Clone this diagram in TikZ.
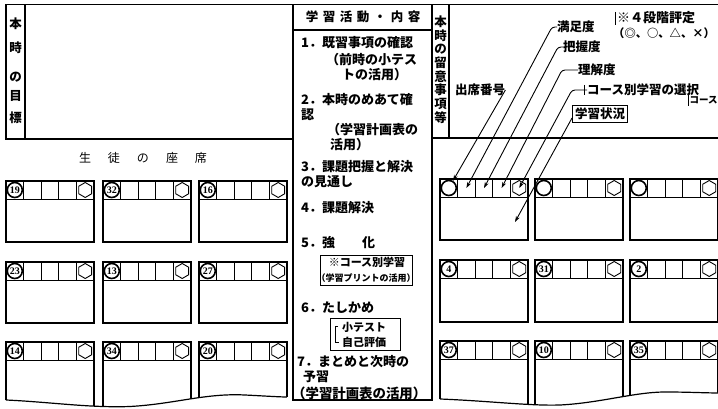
\documentclass[tikz,border=0pt]{standalone}
\usepackage{fontspec}
\newfontfamily\cjk{Noto Sans CJK JP}
\newfontfamily\numf{Liberation Serif}
\usetikzlibrary{shapes.geometric,arrows.meta,calc}
\newcommand\seat[5]{%
  \node[seatbox,minimum height=#4pt] (#1) at (#2,#3) {};
  \foreach \k in {0,...,4}{\node[cellbox] (#1c\k) at ({#2+17.6*\k},#3) {};}
  \node[numc] (#1n) at (#1c0.center) {#5};
  \node[hexa] (#1h) at (#1c4.center) {};
}
\begin{document}
\begin{tikzpicture}[x=1pt,y=-1pt,
  frame/.style={line width=1.4pt},
  seatbox/.style={draw,line width=1.2pt,minimum width=88pt,anchor=north west,inner sep=0pt,outer sep=0pt},
  cellbox/.style={draw,line width=0.9pt,minimum width=17.6pt,minimum height=18pt,anchor=north west,inner sep=0pt,outer sep=0pt},
  numc/.style={circle,draw,line width=1.6pt,minimum size=15pt,inner sep=0pt,font=\numf\bfseries\fontsize{10}{10}\selectfont},
  hexa/.style={regular polygon,regular polygon sides=6,shape border rotate=30,draw,line width=0.9pt,minimum size=15pt,inner sep=0pt},
  item/.style={anchor=west,inner sep=0pt,font=\cjk\bfseries\fontsize{13}{13}\selectfont},
  lbl/.style={anchor=west,inner sep=0pt,font=\cjk\bfseries\fontsize{12.5}{12.5}\selectfont},
  vchar/.style={inner sep=0pt,font=\cjk\bfseries\fontsize{12.5}{12.5}\selectfont},
  leader/.style={line width=0.9pt,rounded corners=3pt,-{Stealth[length=6pt,width=4pt]}},
]
\useasboundingbox (0,0) rectangle (718,409);
\fill[white] (0,0) rectangle (718,409);

% ---- top left: 本時の目標
\draw[frame] (6,4.5) rectangle (293,139);
\draw[frame] (25,4.5) -- (25,139);
\foreach \c/\yy in {本/24,時/48,の/77,目/96,標/118}{\node[vchar] at (15.5,\yy) {\c};}

% ---- center column
\draw[frame] (293,4.5) rectangle (432,400);
\draw[frame] (293,30) -- (432,30);
\node[inner sep=0pt,font=\cjk\bfseries\fontsize{12.5}{12.5}\selectfont] (hd) at (363,17)
  {学\hspace{4.5pt}習\hspace{4.5pt}活\hspace{4.5pt}動\hspace{4.5pt}・\hspace{4.5pt}内\hspace{4.5pt}容};
\node[item] at (301,43) {1．既習事項の確認};
\node[item] at (326,60) {（前時の小テス};
\node[item] at (342,75) {トの活用）};
\node[item] at (301,100) {2．本時のめあて確};
\node[item] at (301,115) {認};
\node[item] at (327,130) {（学習計画表の};
\node[item] at (330,145) {活用）};
\node[item] at (301,167) {3．課題把握と解決};
\node[item] at (301,182) {の見通し};
\node[item] at (301,208) {4．課題解決};
\node[item] at (301,243) {5．強\hspace{27pt}化};
\node[draw,line width=1pt,minimum width=92pt,minimum height=30pt,inner sep=0pt] (kb) at (366,270) {};
\node[inner sep=0pt,font=\cjk\bfseries\fontsize{11}{11}\selectfont] at (367,262) {※コース別学習};
\node[inner sep=0pt,font=\cjk\bfseries\fontsize{9}{9}\selectfont] at (366,278) {（学習プリントの活用）};
\node[item] at (301,308) {6．たしかめ};
\node[draw,line width=1pt,minimum width=70pt,minimum height=32pt,inner sep=0pt] (tb) at (365,334) {};
\node[anchor=west,inner sep=0pt,font=\cjk\bfseries\fontsize{11}{11}\selectfont] at (342,327) {小テスト};
\node[anchor=west,inner sep=0pt,font=\cjk\bfseries\fontsize{11}{11}\selectfont] at (342,342) {自己評価};
\draw[line width=0.8pt] (338,326) -- (335.5,326) -- (335.5,342) -- (339,342);
\node[item] at (297,362) {7．まとめと次時の};
\node[item] at (303,377) {予習};
\node[item,font=\cjk\bfseries\fontsize{13.4}{13.4}\selectfont] at (292,393) {（学習計画表の活用）};

% ---- top right: 本時の留意事項等
\draw[frame] (432,4.5) -- (718,4.5);
\draw[frame] (432,138) -- (718,138);
\draw[frame] (449,4.5) -- (449,138);
\foreach \c [count=\i] in {本,時,の,留,意,事,項,等}{\node[vchar] at (440.5,{22+(\i-1)*13.6}) {\c};}

% ---- seats
\node[inner sep=0pt,font=\cjk\fontsize{12}{12}\selectfont] (zs) at (143,158)
  {生\hspace{17pt}徒\hspace{17pt}の\hspace{17pt}座\hspace{17pt}席};
\seat{L1}{6}{181}{61}{19}
\seat{L2}{103}{181}{61}{32}
\seat{L3}{199}{181}{61}{16}
\seat{L4}{6}{262}{61}{23}
\seat{L5}{103}{262}{61}{13}
\seat{L6}{199}{262}{61}{27}
\seat{L7}{6}{342}{74}{14}
\seat{L8}{103}{342}{74}{34}
\seat{L9}{199}{342}{74}{20}
\seat{R1}{440}{179}{61}{}
\seat{R2}{535}{179}{61}{}
\seat{R3}{630}{179}{61}{}
\seat{R4}{440}{260}{62}{4}
\seat{R5}{535}{260}{62}{31}
\seat{R6}{630}{260}{62}{2}
\seat{R7}{440}{341}{74}{37}
\seat{R8}{535}{341}{74}{10}
\seat{R9}{630}{341}{74}{35}

% wavy torn bottoms
\fill[white] (3,400) -- (6,400) .. controls (50,402) and (90,408) .. (130,406.5)
  .. controls (175,404) and (205,393) .. (245,395) .. controls (265,396) and (280,397) .. (287,397)
  -- (291,397) -- (291,416) -- (3,416) -- cycle;
\draw[line width=1.2pt] (6,400) .. controls (50,402) and (90,408) .. (130,406.5)
  .. controls (175,404) and (205,393) .. (245,395) .. controls (265,396) and (280,397) .. (287,397);
\fill[white] (437,399) -- (440,399) .. controls (490,401) and (530,406) .. (560,405)
  .. controls (600,403) and (635,392) .. (665,392) .. controls (690,392) and (705,393) .. (720,393)
  -- (720,416) -- (437,416) -- cycle;
\draw[line width=1.2pt] (440,399) .. controls (490,401) and (530,406) .. (560,405)
  .. controls (600,403) and (635,392) .. (665,392) .. controls (690,392) and (705,393) .. (720,393);

% ---- labels and leaders
\node[lbl] (lS) at (455,90) {出席番号};
\node[lbl] (lM) at (557,27) {満足度};
\node[lbl] (lH) at (563,47) {把握度};
\node[lbl] (lR) at (578,70) {理解度};
\node[lbl] (lC) at (587,90) {コース別学習の選択};
\node[lbl,draw,line width=1pt,inner sep=2.5pt] (lJ) at (572,114) {学習状況};
\node[lbl,font=\cjk\bfseries\fontsize{13}{13}\selectfont] (lE) at (617,18) {※４段階評定};
\node[lbl,font=\cjk\bfseries\fontsize{11.3}{11.3}\selectfont] (lK) at (613,33) {（◎、○、△、×）};
\node[lbl,font=\cjk\bfseries\fontsize{9.5}{9.5}\selectfont] (lX) at (689.5,100) {コース};
\draw[line width=0.7pt] (615,12) -- (615,25);
\draw[line width=0.7pt] (688,93) -- (688,106);
\draw[line width=0.7pt] (584,85) -- (584,95);
\coordinate (stat) at ($(R1.north west)+(75,43)$);
\draw[leader] (lS.east) -- (R1n);
\draw[leader] (lM.west) -- (552,27) -- (R1c1.center);
\draw[leader] (lH.west) -- (558,47) -- (R1c2.center);
\draw[leader] (lR.west) -- (562,70) -- (R1c3.center);
\draw[leader] (lC.west) -- (572,90) -- (R1h.center);
\draw[leader] ($(lJ.west)+(0,4)$) -- (stat);
\end{tikzpicture}
\end{document}
